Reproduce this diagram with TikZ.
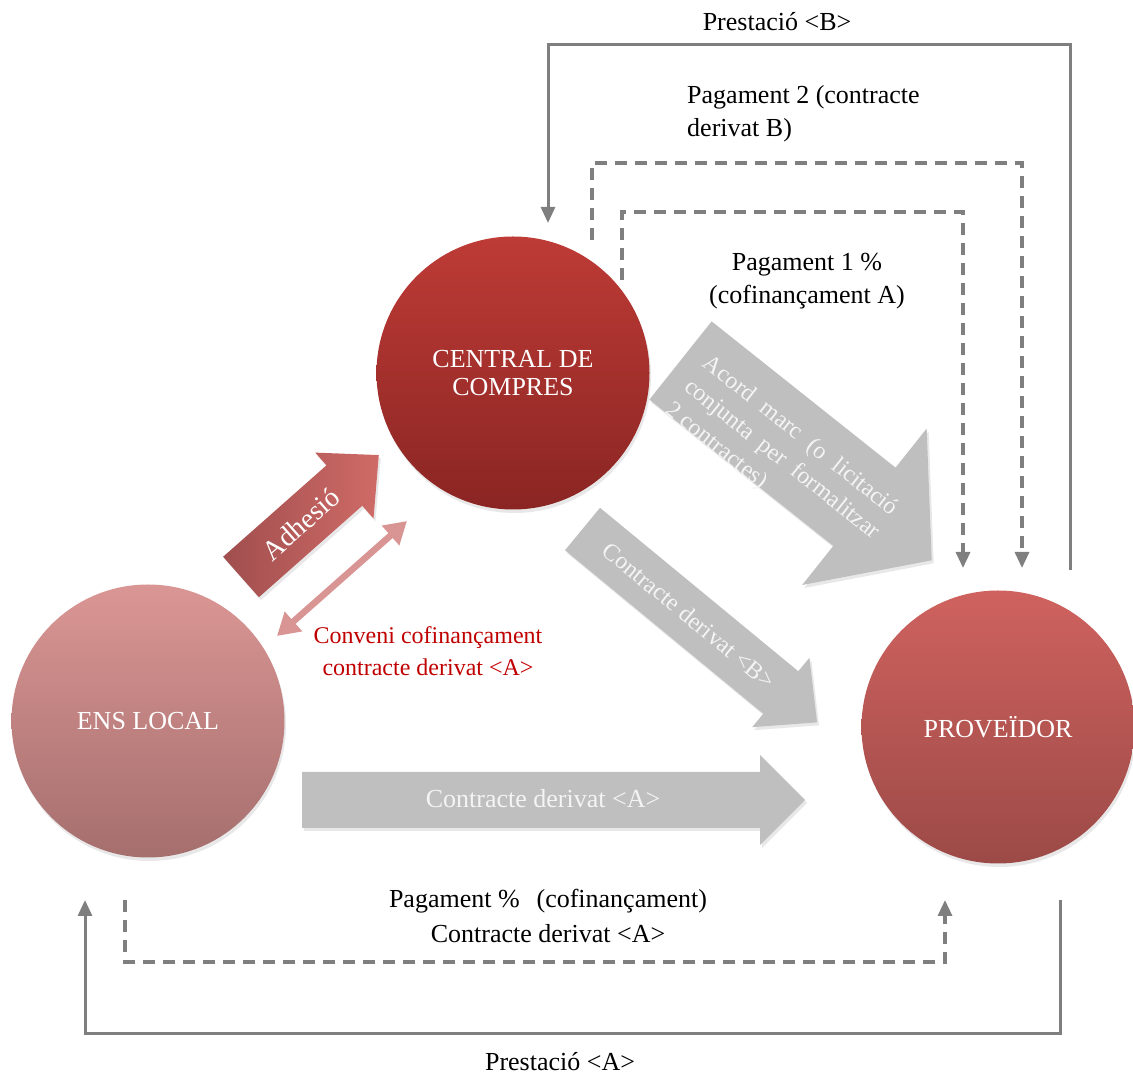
\documentclass[tikz,border=0pt]{standalone}
\usepackage{fontspec}
\setmainfont{Liberation Serif}
\usetikzlibrary{arrows.meta,calc,shadows}

\definecolor{linegray}{HTML}{7F7F7F}
\definecolor{boxgray}{HTML}{BFBFBF}
\definecolor{boxtext}{HTML}{F4F4F4}
\definecolor{convred}{HTML}{C00000}
\definecolor{convpink}{HTML}{D99594}

% outline of a block arrow lying along the local x axis:
% #1 length, #2 half shaft width, #3 half head width, #4 head length
\newcommand\blockarrowpath[4]{(0,-#2) -- (#1-#4,-#2) -- (#1-#4,-#3) -- (#1,0) -- (#1-#4,#3) -- (#1-#4,#2) -- (0,#2) -- cycle}

\tikzset{
  party/.style={circle, minimum size=273pt, inner sep=0pt, text=white, align=center,
    font=\fontsize{26}{28}\selectfont,
    drop shadow={opacity=.18, shadow xshift=1.5pt, shadow yshift=-3.5pt}},
  blockshadow/.style={drop shadow={opacity=.18, shadow xshift=2pt, shadow yshift=-3pt}},
  conn/.style={draw=linegray, line width=3pt},
  dashconn/.style={conn, line width=3.2pt, dash pattern=on 12pt off 8pt},
  tip/.style={-{Triangle[length=16pt,width=14pt]}},
  lbl/.style={font=\fontsize{26}{33}\selectfont, inner sep=0pt},
  arrowtext/.style={text=boxtext, inner sep=0pt},
}

\begin{document}
\begin{tikzpicture}[x=1pt,y=1pt]
\useasboundingbox (0,0) rectangle (1133,1077);

% the three parties
\node[party, top color={rgb,255:red,190;green,59;blue,54}, bottom color={rgb,255:red,138;green,37;blue,35}]
  (central) at (513,704) {CENTRAL DE\\COMPRES};
\node[party, top color={rgb,255:red,218;green,150;blue,148}, bottom color={rgb,255:red,165;green,111;blue,110}]
  (ens) at (148,356) {ENS LOCAL};
\node[party, top color={rgb,255:red,207;green,98;blue,95}, bottom color={rgb,255:red,156;green,74;blue,71}]
  (prov) at (998,350) {PROVEÏDOR};

% Adhesió
\begin{scope}[shift={(241,500)}, rotate=41.5]
  \path[blockshadow, left color={rgb,255:red,160;green,78;blue,78}, right color={rgb,255:red,207;green,107;blue,103}]
    \blockarrowpath{184}{27}{44}{46};
  \node[arrowtext, text=white, rotate=41.5, font=\fontsize{28}{30}\selectfont] (adhesio) at (80,0) {Adhesió};
\end{scope}

% conveni de cofinançament
\coordinate (conv-a) at (277,441);
\coordinate (conv-b) at (407,556);
\draw[convpink, line width=6.5pt, {Triangle[length=22pt,width=25pt]}-{Triangle[length=22pt,width=25pt]}] (conv-a) -- (conv-b);
\node[font=\fontsize{24}{32}\selectfont, text=convred, align=center, inner sep=0pt] (conveni) at (428,426)
  {Conveni cofinançament\\contracte derivat <A>};

% acord marc
\begin{scope}[shift={(680.5,716.5)}, rotate=-38.5]
  \fill[boxgray, blockshadow] \blockarrowpath{321}{50}{100}{86};
  \node[arrowtext, rotate=-38.5, align=left, font=\fontsize{24}{30}\selectfont] (acord) at (141,-15)
    {\makebox[242pt][s]{Acord marc (o licitació}\\\makebox[242pt][s]{conjunta per formalitzar}\\2 contractes)};
\end{scope}

% contracte derivat B
\begin{scope}[shift={(582.5,548)}, rotate=-39.5]
  \fill[boxgray, blockshadow] \blockarrowpath{304}{27.5}{45}{47};
  \node[arrowtext, rotate=-39.5, font=\fontsize{24}{26}\selectfont] (derivB) at (137,1) {Contracte derivat <B>};
\end{scope}

% contracte derivat A
\begin{scope}[shift={(302,277)}]
  \fill[boxgray, blockshadow] \blockarrowpath{503}{28}{45}{45};
  \node[arrowtext, font=\fontsize{26}{28}\selectfont] (derivA) at (241,1) {Contracte derivat <A>};
\end{scope}

% flows at the top
\coordinate (prB-start) at (1070,507);
\coordinate (prB-end) at (548,854);
\draw[conn, tip] (prB-start) -- ++(0,525) -| (prB-end);
\node[lbl] (prB) at (777,1055) {Prestació <B>};

\coordinate (pg2-start) at (592,837);
\coordinate (pg2-end) at (1022,509);
\draw[dashconn, tip] (pg2-start) -- ++(0,77) -| (pg2-end);
\node[lbl, anchor=west, align=left] (pg2) at (687,963.5) {Pagament 2 (contracte\\derivat B)};

\coordinate (pg1-start) at (622,797);
\coordinate (pg1-end) at (963,509);
\draw[dashconn, tip] (pg1-start) -- ++(0,68) -| (pg1-end);
\node[lbl, align=center] (pg1) at (807,795.5) {Pagament 1 \%\\(cofinançament A)};

% flows at the bottom
\coordinate (pgA-start) at (125,177);
\coordinate (pgA-end) at (945,177);
\draw[dashconn, tip] (pgA-start) -- ++(0,-62) -| (pgA-end);
\node[lbl, align=center, font=\fontsize{26}{35}\selectfont] (pgA) at (548,161.5)
  {Pagament \%\hspace{0.4em} (cofinançament)\\Contracte derivat <A>};

\coordinate (prA-start) at (1060,177);
\coordinate (prA-end) at (85,177);
\draw[conn, tip] (prA-start) -- ++(0,-133) -| (prA-end);
\node[lbl] (prA) at (560,15) {Prestació <A>};

\end{tikzpicture}
\end{document}
